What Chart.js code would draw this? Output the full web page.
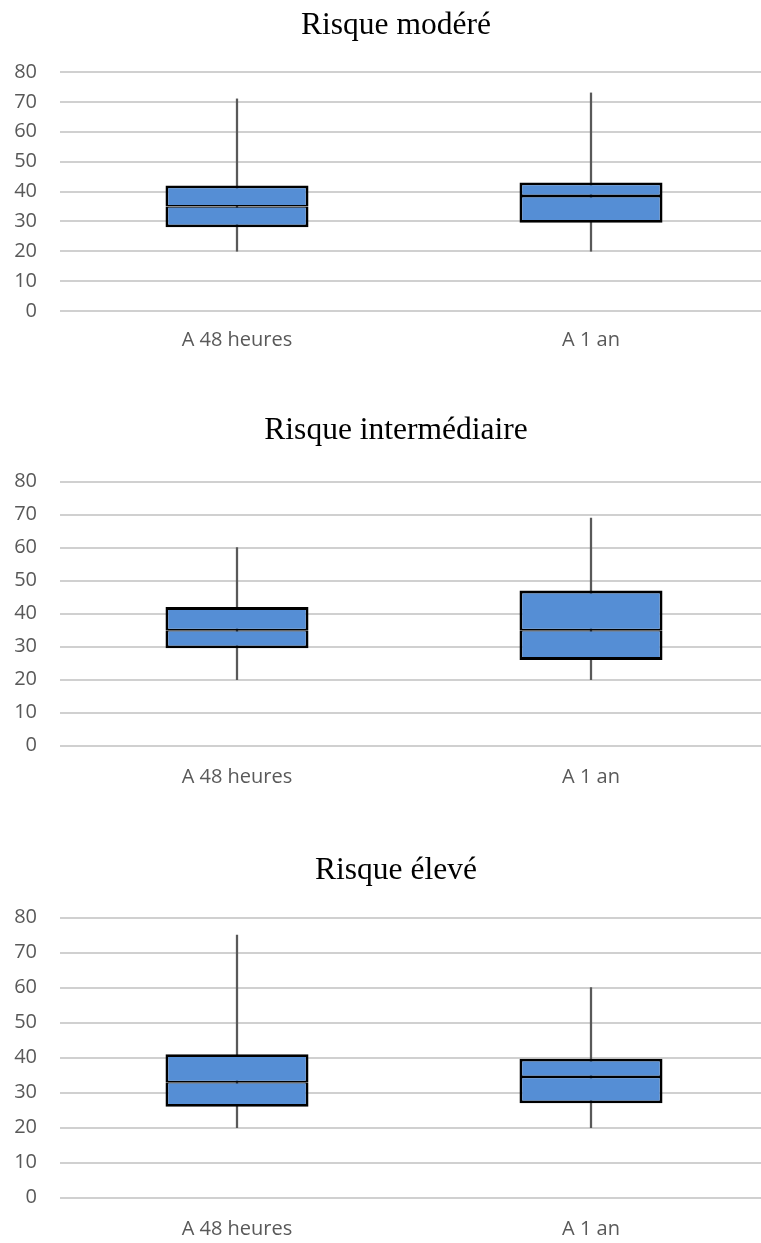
<!DOCTYPE html>
<html lang="fr">
<head>
<meta charset="utf-8">
<title>Risque - box plots</title>
<script src="https://cdn.jsdelivr.net/npm/chart.js@4/dist/chart.umd.min.js"></script>
<style>
  html, body { margin: 0; padding: 0; background: #fff; overflow: hidden; }
  .wrap { position: relative; width: 761px; height: 1243px; overflow: hidden; }
  canvas { position: absolute; left: 0; }
</style>
</head>
<body>
<div class="wrap">
  <canvas id="chartModere" width="792" height="390" style="top:0px"></canvas>
  <canvas id="chartInter" width="792" height="425" style="top:390px"></canvas>
  <canvas id="chartEleve" width="792" height="428" style="top:815px"></canvas>
</div>
<script>
// categories and axis ticks
const categories = ['A 48 heures', 'A 1 an'];
const yTicks = [0, 10, 20, 30, 40, 50, 60, 70, 80];

// Risque modéré
const moderateMin = [20, 20];
const moderateQ1 = [28, 29.5];
const moderateMedian = [35, 38.5];
const moderateQ3 = [42, 43];
const moderateMax = [71, 73];

// Risque intermédiaire
const interMin = [20, 20];
const interQ1 = [29.5, 26];
const interMedian = [35, 35];
const interQ3 = [42, 47];
const interMax = [60, 69];

// Risque élevé
const highMin = [20, 20];
const highQ1 = [26, 27];
const highMedian = [33, 34.5];
const highQ3 = [41, 39.7];
const highMax = [75, 60];

const BOX_FILL = '#558ED5';
const WHISKER = '#595959';

function pairs(a, b) {
  return a.map((v, i) => [v, b[i]]);
}

function makeBoxChart(id, title, mins, q1s, medians, q3s, maxs, lay) {
  const ctx = document.getElementById(id).getContext('2d');
  return new Chart(ctx, {
    type: 'bar',
    data: {
      labels: categories,
      datasets: [
        {
          // lower half of the box (q1 -> median)
          data: pairs(q1s, medians),
          backgroundColor: BOX_FILL,
          borderColor: '#000',
          borderWidth: { top: 1.4, bottom: 2.8, left: 2.8, right: 2.8 },
          borderSkipped: false,
          categoryPercentage: 1,
          barPercentage: 0.404,
          order: 1,
        },
        {
          // upper half of the box (median -> q3)
          data: pairs(medians, q3s),
          backgroundColor: BOX_FILL,
          borderColor: '#000',
          borderWidth: { top: 2.8, bottom: 1.4, left: 2.8, right: 2.8 },
          borderSkipped: false,
          categoryPercentage: 1,
          barPercentage: 0.404,
          order: 1,
        },
        {
          // whisker min -> max, drawn behind the box
          data: pairs(mins, maxs),
          backgroundColor: WHISKER,
          borderWidth: 0,
          barThickness: 1.6,
          order: 2,
        },
      ],
    },
    options: {
      responsive: false,
      animation: false,
      layout: { padding: 0 },
      plugins: {
        legend: { display: false },
        tooltip: { enabled: false },
        title: {
          display: true,
          text: title,
          color: '#000',
          font: { family: '"Liberation Serif", "Times New Roman", serif', size: 31.5, weight: 'normal' },
          padding: { top: lay.titleTop, bottom: lay.titleBottom },
        },
      },
      scales: {
        x: {
          stacked: true,
          grid: { display: false, drawTicks: false },
          border: { display: false },
          ticks: {
            color: '#595959',
            padding: lay.xPad,
            font: { family: '"Open Sans", sans-serif', size: 20 },
          },
          afterFit: (s) => { s.height = lay.xHeight; },
        },
        y: {
          stacked: false,
          min: yTicks[0],
          max: yTicks[yTicks.length - 1],
          afterBuildTicks: (s) => { s.ticks = yTicks.map((v) => ({ value: v })); },
          grid: { color: '#D0D0D0', lineWidth: 2, drawTicks: false },
          border: { display: false },
          ticks: {
            color: '#595959',
            padding: 23,
            font: { family: '"Open Sans", sans-serif', size: 20 },
          },
          afterFit: (s) => { s.width = 60; },
        },
        // empty right-hand axis: keeps the plot clear of the right margin
        yRight: {
          position: 'right',
          grid: { display: false, drawTicks: false },
          border: { display: false },
          ticks: { display: false },
          afterFit: (s) => { s.width = 24; },
        },
      },
    },
  });
}

makeBoxChart('chartModere', 'Risque modéré',
  moderateMin, moderateQ1, moderateMedian, moderateQ3, moderateMax,
  { titleTop: 6.6, titleBottom: 27.6, xHeight: 79, xPad: 17 });

makeBoxChart('chartInter', 'Risque intermédiaire',
  interMin, interQ1, interMedian, interQ3, interMax,
  { titleTop: 21.6, titleBottom: 32.3, xHeight: 69.3, xPad: 20 });

makeBoxChart('chartEleve', 'Risque élevé',
  highMin, highQ1, highMedian, highQ3, highMax,
  { titleTop: 37.3, titleBottom: 27.6, xHeight: 45.3, xPad: 19.5 });
</script>
</body>
</html>
